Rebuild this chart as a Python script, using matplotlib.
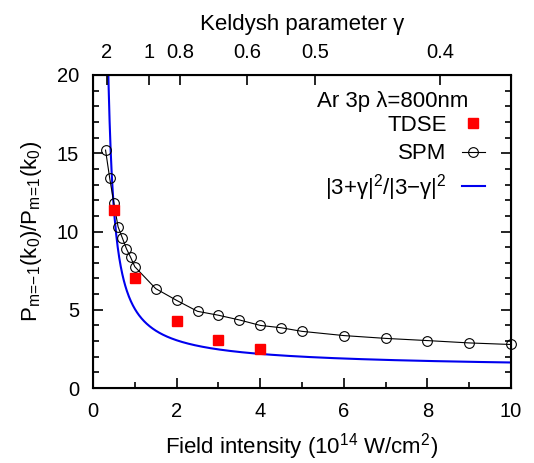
import numpy as np
import matplotlib
matplotlib.use("Agg")
import matplotlib.pyplot as plt
from matplotlib.lines import Line2D

plt.rcParams['font.family'] = ['Liberation Sans', 'DejaVu Sans']
plt.rcParams['mathtext.fontset'] = 'custom'
plt.rcParams['mathtext.rm'] = 'Liberation Sans'
plt.rcParams['mathtext.it'] = 'Liberation Sans:italic'

# TDSE results
tdse_I = [0.5, 1.0, 2.0, 3.0, 4.0]
tdse_ratio = [11.4, 7.0, 4.25, 3.09, 2.49]

# SPM results
spm_I = [0.3, 0.4, 0.5, 0.6, 0.7, 0.8, 0.9, 1.0, 1.5, 2.0, 2.5, 3.0, 3.5,
         4.0, 4.5, 5.0, 6.0, 7.0, 8.0, 9.0, 10.0]
spm_ratio = [15.2, 13.4, 11.8, 10.3, 9.6, 8.9, 8.35, 7.75, 6.35, 5.6, 4.9,
             4.65, 4.35, 4.0, 3.85, 3.62, 3.35, 3.17, 3.03, 2.88, 2.78]

# Keldysh parameter: gamma = sqrt(K / I), Ar 3p, 800 nm
K = 1.33
gamma_ticks = [2, 1, 0.8, 0.6, 0.5, 0.4]
gamma_labels = ['2', '1', '0.8', '0.6', '0.5', '0.4']

TICK_FS = 14.5
LABEL_FS = 16

fig = plt.figure(figsize=(5.34, 4.63), dpi=100)
ax = fig.add_axes([93 / 534, 75 / 463, 418 / 534, 313 / 463])

# model curve |3+g|^2/|3-g|^2 from the legend
I = np.linspace(0.3, 10, 800)
g = np.sqrt(K / I)
ratio = (3 + g) ** 2 / (3 - g) ** 2

ax.plot(I, ratio, color='#0000ee', lw=1.5, zorder=2)
ax.plot(spm_I, spm_ratio, color='black', lw=0.8, marker='o', ms=7,
        mfc='none', mec='black', mew=0.8, zorder=3, clip_on=False)
ax.plot(tdse_I, tdse_ratio, ls='none', marker='s', ms=7.5, color='#ff0000',
        mec='#ff0000', zorder=4)

ax.set_xlim(0, 10)
ax.set_ylim(0, 20)
ax.set_xticks([0, 2, 4, 6, 8, 10])
ax.set_xticks([1, 3, 5, 7, 9], minor=True)
ax.set_yticks([0, 5, 10, 15, 20])
ax.set_yticks(np.arange(0, 21, 1), minor=True)
ax.tick_params(which='both', direction='in', width=1.2, labelsize=TICK_FS,
               right=True, top=False)
ax.tick_params(which='major', length=7)
ax.tick_params(which='minor', length=4)
ax.tick_params(axis='x', pad=10)
ax.tick_params(axis='y', pad=10)
for s in ax.spines.values():
    s.set_linewidth(1.5)

ax.set_xlabel(r'Field intensity (10$^{14}$ W/cm$^{2}$)', fontsize=LABEL_FS, labelpad=7.5)
ax.set_ylabel(r'$\mathregular{P_{m\!=\!{-}1}(k_0)/P_{m\!=\!1}(k_0)}$',
              fontsize=LABEL_FS, labelpad=9)

top = ax.twiny()
top.set_xlim(0, 10)
top.set_xticks([K / gm ** 2 for gm in gamma_ticks])
top.set_xticklabels(gamma_labels)
top.tick_params(direction='in', length=7, width=1.2, labelsize=TICK_FS, pad=9)
top.set_xlabel('Keldysh parameter γ', fontsize=LABEL_FS, labelpad=10)

ax.text(0.897, 0.914, 'Ar 3p λ=800nm', transform=ax.transAxes,
        ha='right', va='center', fontsize=LABEL_FS)

handles = [
    Line2D([], [], ls='none', marker='s', ms=7.5, color='#ff0000'),
    Line2D([], [], color='black', lw=0.8, marker='o', ms=7, mfc='none', mew=0.8),
    Line2D([], [], color='#0000ee', lw=1.5),
]
labels = ['TDSE', 'SPM', r'$\mathregular{|3{+}γ|^2/|3{-}γ|^2}$']
ax.legend(handles, labels, loc='upper right', bbox_to_anchor=(0.938, 0.872),
          frameon=False, markerfirst=False, fontsize=LABEL_FS, handlelength=1.05,
          handletextpad=0.68, labelspacing=0.33, borderpad=0, borderaxespad=0)

fig.savefig('out.png', dpi=100)
